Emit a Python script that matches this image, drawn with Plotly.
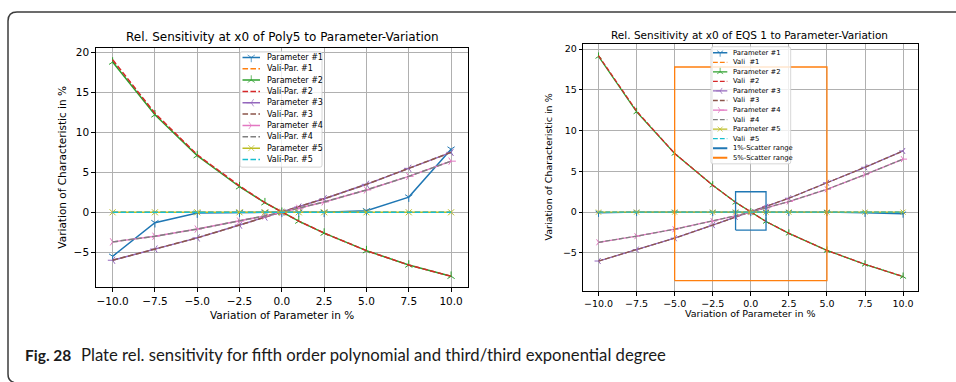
import plotly.graph_objects as go

W, H = 956, 382

# ---------------- data ----------------
param_variation = [-10, -7.5, -5, -2.5, -1, 0, 1, 2.5, 5, 7.5, 10]

# Poly5 model
poly5_par1 = [-5.5, -1.3, -0.1, 0.0, 0.0, 0.0, 0.0, 0.0, 0.2, 1.9, 7.9]
poly5_vali1 = [0.0, 0.0, 0.0, 0.0, 0.0, 0.0, 0.0, 0.0, 0.0, 0.0, 0.0]
poly5_par2 = [18.8, 12.2, 7.1, 3.2, 1.2, 0.0, -1.1, -2.6, -4.8, -6.6, -8.0]
poly5_vali2 = [19.1, 12.4, 7.2, 3.3, 1.2, 0.0, -1.1, -2.6, -4.8, -6.6, -8.0]
poly5_par3 = [-6.0, -4.6, -3.2, -1.6, -0.6, 0.0, 0.65, 1.7, 3.5, 5.5, 7.5]
poly5_vali3 = [-6.0, -4.6, -3.2, -1.6, -0.6, 0.0, 0.65, 1.7, 3.5, 5.5, 7.5]
poly5_par4 = [-3.7, -3.0, -2.1, -1.1, -0.45, 0.0, 0.5, 1.3, 2.8, 4.5, 6.4]
poly5_vali4 = [-3.7, -3.0, -2.1, -1.1, -0.45, 0.0, 0.5, 1.3, 2.8, 4.5, 6.4]
poly5_par5 = [0.0, 0.0, 0.0, 0.0, 0.0, 0.0, 0.0, 0.0, 0.0, 0.0, 0.0]
poly5_vali5 = [0.0, 0.0, 0.0, 0.0, 0.0, 0.0, 0.0, 0.0, 0.0, 0.0, 0.0]

# EQS 1 model
eqs1_par1 = [-0.1, 0.0, 0.0, 0.0, 0.0, 0.0, 0.0, 0.0, 0.0, -0.1, -0.2]
eqs1_vali1 = [0.0, 0.0, 0.0, 0.0, 0.0, 0.0, 0.0, 0.0, 0.0, 0.0, 0.0]
eqs1_par2 = [19.1, 12.3, 7.2, 3.3, 1.2, 0.0, -1.15, -2.6, -4.7, -6.4, -7.9]
eqs1_vali2 = [19.2, 12.4, 7.2, 3.3, 1.2, 0.0, -1.15, -2.6, -4.7, -6.4, -7.9]
eqs1_par3 = [-6.0, -4.6, -3.2, -1.6, -0.6, 0.0, 0.65, 1.7, 3.6, 5.5, 7.5]
eqs1_vali3 = [-6.0, -4.6, -3.2, -1.6, -0.6, 0.0, 0.65, 1.7, 3.6, 5.5, 7.5]
eqs1_par4 = [-3.7, -2.95, -2.1, -1.1, -0.45, 0.0, 0.5, 1.3, 2.8, 4.6, 6.5]
eqs1_vali4 = [-3.7, -2.95, -2.1, -1.1, -0.45, 0.0, 0.5, 1.3, 2.8, 4.6, 6.5]
eqs1_par5 = [0.0, 0.0, 0.0, 0.0, 0.0, 0.0, 0.0, 0.0, 0.0, 0.0, 0.0]
eqs1_vali5 = [0.0, 0.0, 0.0, 0.0, 0.0, 0.0, 0.0, 0.0, 0.0, 0.0, 0.0]

# scatter ranges (x-span, y-span)
scatter_1pct_x = [-1, 1]
scatter_1pct_y = [-2.2, 2.5]
scatter_5pct_x = [-5, 5]
scatter_5pct_y = [-8.4, 17.8]

x_ticks = [-10, -7.5, -5, -2.5, 0, 2.5, 5, 7.5, 10]
y_ticks = [-5, 0, 5, 10, 15, 20]

poly5_names = ["Parameter #1", "Vali-Par. #1", "Parameter #2", "Vali-Par. #2",
               "Parameter #3", "Vali-Par. #3", "Parameter #4", "Vali-Par. #4",
               "Parameter #5", "Vali-Par. #5"]
eqs1_names = ["Parameter #1", "Vali\u00a0 #1", "Parameter #2", "Vali\u00a0 #2",
              "Parameter #3", "Vali\u00a0 #3", "Parameter #4", "Vali\u00a0 #4",
              "Parameter #5", "Vali\u00a0 #5", "1%-Scatter range", "5%-Scatter range"]

poly5_series = [poly5_par1, poly5_vali1, poly5_par2, poly5_vali2, poly5_par3,
                poly5_vali3, poly5_par4, poly5_vali4, poly5_par5, poly5_vali5]
eqs1_series = [eqs1_par1, eqs1_vali1, eqs1_par2, eqs1_vali2, eqs1_par3,
               eqs1_vali3, eqs1_par4, eqs1_vali4, eqs1_par5, eqs1_vali5]

# ---------------- styles ----------------
COLORS = ["#1f77b4", "#ff7f0e", "#2ca02c", "#d62728", "#9467bd",
          "#8c564b", "#e377c2", "#7f7f7f", "#bcbd22", "#17becf"]
SYMBOLS = ["y-down", None, "y-up", None, "y-left", None, "y-right", None, "x-thin", None]
FONT = "DejaVu Sans, Verdana, sans-serif"


def px(x):
    return x / W


def py(y):
    return 1 - y / H


def dash_for(lw):
    return f"{3.7 * lw:.2f}px,{1.6 * lw:.2f}px"


def paper_text(text, x, y, size, family=FONT, angle=0, xanchor="center", color="black"):
    return dict(text=text, x=px(x), y=py(y), xref="paper", yref="paper",
                xanchor=xanchor, yanchor="middle", showarrow=False, textangle=angle,
                font=dict(family=family, size=size, color=color))


fig = go.Figure()

panels = [
    dict(series=poly5_series, names=poly5_names, xa="x", ya="y", lw=1.5, ms=6,
         box=(95.7, 468, 46, 287), yrange=[-9.41, 20.59], tickfont=10.5,
         title="Rel. Sensitivity at x0 of Poly5 to Parameter-Variation", tfs=12,
         title_xy=(282, 35), ylab_x=62, xlab_y=315, labfs=10.5,
         legend=dict(box=(240, 322, 50, 166), y0=55.7, dy=11.4, lx=(242.5, 260), tx=264.5, fs=8),
         xl="x3", yl="y3", scatter=False),
    dict(series=eqs1_series, names=eqs1_names, xa="x2", ya="y2", lw=1.3, ms=5,
         box=(583.3, 918.3, 42, 290.7), yrange=[-9.7, 20.65], tickfont=9.5,
         title="Rel. Sensitivity at x0 of EQS 1 to Parameter-Variation", tfs=10.5,
         title_xy=(749, 33), ylab_x=548, xlab_y=313, labfs=9.5,
         legend=dict(box=(711, 790.7, 45, 162.7), y0=51, dy=9.6, lx=(713, 727.3), tx=731, fs=6.8),
         xl="x4", yl="y4", scatter=True),
]

annotations = []
shapes = []
layout_axes = {}

for k, p in enumerate(panels):
    lw = p["lw"]
    # series lines
    for i, ys in enumerate(p["series"]):
        is_vali = i % 2 == 1
        tr = dict(x=param_variation, y=ys, xaxis=p["xa"], yaxis=p["ya"],
                  showlegend=False, hoverinfo="skip", name=p["names"][i],
                  line=dict(color=COLORS[i], width=lw,
                            dash=dash_for(lw) if is_vali else "solid"))
        if is_vali:
            tr["mode"] = "lines"
        else:
            tr["mode"] = "lines+markers"
            tr["marker"] = dict(symbol=SYMBOLS[i], size=p["ms"], color=COLORS[i],
                                line=dict(color=COLORS[i], width=1.0))
        fig.add_trace(go.Scatter(**tr))

    # scatter-range rectangles
    if p["scatter"]:
        for (sx, sy), col in (((scatter_1pct_x, scatter_1pct_y), COLORS[0]),
                              ((scatter_5pct_x, scatter_5pct_y), COLORS[1])):
            fig.add_trace(go.Scatter(
                x=[sx[0], sx[1], sx[1], sx[0], sx[0]],
                y=[sy[0], sy[0], sy[1], sy[1], sy[0]],
                mode="lines", line=dict(color=col, width=lw),
                xaxis=p["xa"], yaxis=p["ya"], showlegend=False, hoverinfo="skip"))

    x0, x1, y0, y1 = p["box"]
    ax_common = dict(showline=True, mirror=True, linecolor="black", linewidth=1,
                     ticks="outside", ticklen=3.5, tickwidth=0.8, tickcolor="black",
                     showgrid=True, gridcolor="#b0b0b0", gridwidth=0.8, zeroline=False,
                     tickfont=dict(family=FONT, size=p["tickfont"], color="black"))
    xname = "xaxis" if k == 0 else "xaxis2"
    yname = "yaxis" if k == 0 else "yaxis2"
    layout_axes[xname] = dict(ax_common, domain=[px(x0), px(x1)], range=[-11, 11],
                              tickvals=x_ticks, tickformat=".1f", anchor=p["ya"])
    layout_axes[yname] = dict(ax_common, domain=[py(y1), py(y0)], range=p["yrange"],
                              tickvals=y_ticks, anchor=p["xa"])

    # titles and axis labels
    annotations.append(paper_text(p["title"], p["title_xy"][0], p["title_xy"][1], p["tfs"]))
    annotations.append(paper_text("Variation of Characteristic in %", p["ylab_x"],
                                  (y0 + y1) / 2, p["labfs"], angle=-90))
    annotations.append(paper_text("Variation of Parameter in %", (x0 + x1) / 2,
                                  p["xlab_y"], p["labfs"]))

    # legend drawn on its own small axes (pixel units)
    lg = p["legend"]
    bx0, bx1, by0, by1 = lg["box"]
    xln = "xaxis3" if k == 0 else "xaxis4"
    yln = "yaxis3" if k == 0 else "yaxis4"
    hidden = dict(showgrid=False, zeroline=False, showticklabels=False, showline=False,
                  ticks="", fixedrange=True)
    layout_axes[xln] = dict(hidden, domain=[px(bx0), px(bx1)], range=[bx0, bx1], anchor=p["yl"])
    layout_axes[yln] = dict(hidden, domain=[py(by1), py(by0)], range=[by1, by0], anchor=p["xl"])

    entries = list(range(len(p["series"])))
    if p["scatter"]:
        entries += [10, 11]
    for j, i in enumerate(entries):
        yy = lg["y0"] + j * lg["dy"]
        la, lb = lg["lx"]
        if i < 10:
            col = COLORS[i]
            is_vali = i % 2 == 1
            tr = dict(x=[la, (la + lb) / 2, lb], y=[yy, yy, yy], xaxis=p["xl"], yaxis=p["yl"],
                      showlegend=False, hoverinfo="skip",
                      line=dict(color=col, width=lw, dash=dash_for(lw) if is_vali else "solid"))
            if is_vali:
                tr["mode"] = "lines"
            else:
                tr["mode"] = "lines+markers"
                tr["marker"] = dict(symbol=SYMBOLS[i], size=[0, p["ms"], 0], color=col,
                                    line=dict(color=col, width=1.0))
        else:
            col = COLORS[0] if i == 10 else COLORS[1]
            tr = dict(x=[la, lb], y=[yy, yy], xaxis=p["xl"], yaxis=p["yl"], mode="lines",
                      showlegend=False, hoverinfo="skip", line=dict(color=col, width=lw * 1.4))
        fig.add_trace(go.Scatter(**tr))
        annotations.append(dict(text=p["names"][i], x=lg["tx"], y=yy, xref=p["xl"], yref=p["yl"],
                                xanchor="left", yanchor="middle", showarrow=False,
                                font=dict(family=FONT, size=lg["fs"], color="black")))
    # rounded legend frame
    r = 2
    shapes.append(dict(
        type="path", xref="paper", yref="paper", layer="above",
        line=dict(color="#cccccc", width=0.8),
        path=(f"M {px(bx0 + r)},{py(by0)} L {px(bx1 - r)},{py(by0)} "
              f"Q {px(bx1)},{py(by0)} {px(bx1)},{py(by0 + r)} L {px(bx1)},{py(by1 - r)} "
              f"Q {px(bx1)},{py(by1)} {px(bx1 - r)},{py(by1)} L {px(bx0 + r)},{py(by1)} "
              f"Q {px(bx0)},{py(by1)} {px(bx0)},{py(by1 - r)} L {px(bx0)},{py(by0 + r)} "
              f"Q {px(bx0)},{py(by0)} {px(bx0 + r)},{py(by0)} Z")))

# outer figure frame (rounded top-left / bottom-left corners)
shapes.append(dict(
    type="path", xref="paper", yref="paper", layer="above",
    line=dict(color="#3c3c3c", width=1.5),
    path=(f"M {px(962)},{py(10)} L {px(17)},{py(10)} Q {px(8)},{py(10)} {px(8)},{py(19)} "
          f"L {px(8)},{py(374)} Q {px(8)},{py(381)} {px(14)},{py(382.5)}")))

# caption
CAP_FONT = "Lato, Open Sans, sans-serif"
annotations.append(paper_text("<b>Fig. 28</b>", 23, 355, 15.5, family=CAP_FONT,
                              xanchor="left", color="#1a1a1a"))
annotations.append(paper_text(
    "Plate rel. sensitivity for fifth order polynomial and third/third exponential degree",
    79, 355, 16.7, family=CAP_FONT, xanchor="left", color="#1a1a1a"))

fig.update_layout(
    width=W, height=H, margin=dict(l=0, r=0, t=0, b=0),
    paper_bgcolor="white", plot_bgcolor="rgba(255,255,255,0.8)",
    showlegend=False, annotations=annotations, shapes=shapes,
    **layout_axes,
)

fig.write_html("out.html")
